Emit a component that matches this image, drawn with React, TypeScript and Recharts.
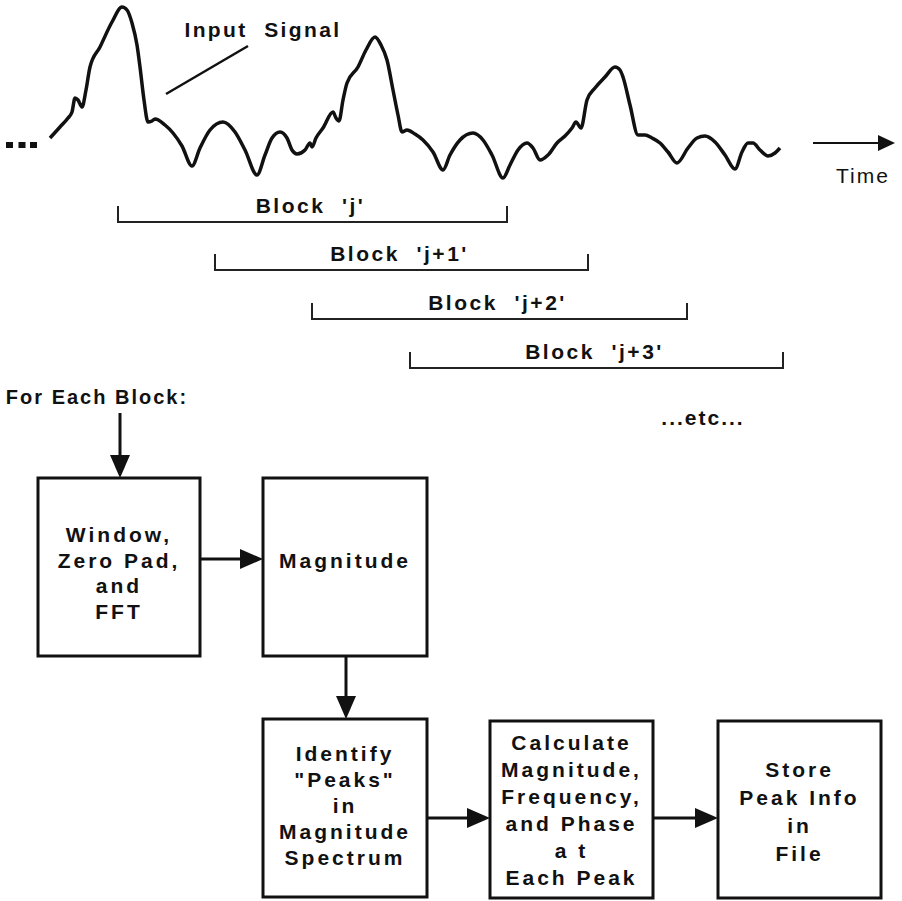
import React from "react";
import { ComposedChart, Line, XAxis, YAxis, ReferenceArea, ReferenceLine, ReferenceDot, Scatter } from "recharts";

// input signal trace (time, level)
const signalTime = [
  50, 60, 68, 72, 75, 78, 82, 86, 90, 100,
  112, 122, 127, 132, 137, 140, 144, 148, 152, 155,
  165, 173, 182, 192, 200, 210, 223, 235, 245, 257,
  265, 272, 280, 287, 292, 297, 305, 310, 312, 316,
  323, 333, 336, 339, 343, 347, 358, 366, 375, 381,
  387, 393, 398, 402, 407, 415, 423, 433, 443, 450,
  460, 473, 483, 492, 503, 510, 518, 527, 533, 540,
  548, 557, 565, 572, 576, 581, 587, 595, 605, 615,
  620, 623, 630, 638, 645, 652, 660, 668, 677, 688,
  697, 705, 715, 725, 735, 742, 748, 753, 760, 768,
  775, 780,
];
const signalLevel = [
  138, 127, 118, 112, 98, 100, 107, 90, 67, 47,
  22, 7, 10, 23, 45, 67, 100, 122, 121, 119,
  125, 133, 146, 166, 148, 130, 122, 132, 150, 175,
  155, 138, 132, 138, 150, 154, 150, 143, 147, 138,
  128, 112, 118, 121, 100, 83, 67, 50, 37, 45,
  60, 90, 115, 132, 130, 134, 140, 152, 170, 155,
  140, 133, 140, 155, 178, 165, 150, 143, 148, 160,
  155, 143, 136, 128, 122, 128, 100, 88, 77, 67,
  70, 77, 105, 135, 135, 138, 143, 152, 163, 148,
  138, 136, 142, 155, 169, 152, 143, 143, 150, 156,
  153, 148,
];

const blockNames = ["Block  'j'", "Block  'j+1'", "Block  'j+2'", "Block  'j+3'"];
const blockStart = [118, 215, 312, 410];
const blockEnd = [507, 588, 687, 783];

const stageLabels = [
  ["Window,", "Zero Pad,", "and", "FFT"],
  ["Magnitude"],
  ["Identify", "\"Peaks\"", "in", "Magnitude", "Spectrum"],
  ["Calculate", "Magnitude,", "Frequency,", "and Phase", "a t", "Each Peak"],
  ["Store", "Peak Info", "in", "File"],
];

const W = 902;
const H = 901;
const INK = "#111";
const FONT = "'Liberation Sans', Arial, Helvetica, sans-serif";

// layout of the flow chart (page units)
const boxes = [
  { x1: 38, x2: 200, y1: 478, y2: 656, dy: 6, gap: 25.5 },
  { x1: 263, x2: 427, y1: 478, y2: 656, dy: -7, gap: 25 },
  { x1: 263, x2: 427, y1: 719, y2: 897, dy: -3, gap: 26 },
  { x1: 490, x2: 653, y1: 721, y2: 898, dy: 0, gap: 27 },
  { x1: 718, x2: 881, y1: 721, y2: 898, dy: 2, gap: 28 },
];
const arrows = [
  [120, 413, 120, 478],
  [200, 559, 263, 559],
  [346, 656, 346, 719],
  [427, 818, 490, 818],
  [653, 818, 718, 818],
];
const bracketRow = [222, 270, 319, 368];
const TICK = 16;

const signal = signalTime.map((x, i) => ({ x, y: signalLevel[i] }));
const ellipsis = [9.5, 22, 33.5].map((x) => ({ x, y: 145 }));

const arrowShape = (head: number, half: number, sw: number) => (p: any) => {
  const { x1, y1, x2, y2 } = p;
  const dx = x2 - x1, dy = y2 - y1;
  const len = Math.hypot(dx, dy) || 1;
  const ux = dx / len, uy = dy / len;
  const bx = x2 - ux * head, by = y2 - uy * head;
  const px = -uy * half, py = ux * half;
  return (
    <g>
      <line x1={x1} y1={y1} x2={bx} y2={by} stroke={INK} strokeWidth={sw} />
      <polygon points={`${x2},${y2} ${bx + px},${by + py} ${bx - px},${by - py}`} fill={INK} />
    </g>
  );
};

const textShape = (text: string, size: number, spacing: number, weight = "bold") => (p: any) => (
  <text
    x={p.cx}
    y={p.cy}
    textAnchor="middle"
    dominantBaseline="central"
    fontFamily={FONT}
    fontSize={size}
    fontWeight={weight}
    letterSpacing={spacing}
    fill={INK}
    style={{ whiteSpace: "pre" }}
  >
    {text}
  </text>
);

const boxShape = (lines: string[], dy: number, gap: number) => (p: any) => {
  const cx = p.x + p.width / 2;
  const cy = p.y + p.height / 2 + dy;
  const top = cy - ((lines.length - 1) * gap) / 2;
  return (
    <g>
      <rect x={p.x} y={p.y} width={p.width} height={p.height} fill="#fff" stroke={INK} strokeWidth={3} />
      {lines.map((l, i) => (
        <text
          key={i}
          x={cx}
          y={top + i * gap}
          textAnchor="middle"
          dominantBaseline="central"
          fontFamily={FONT}
          fontSize={21}
          fontWeight="bold"
          letterSpacing={3}
          fill={INK}
          style={{ whiteSpace: "pre" }}
        >
          {l}
        </text>
      ))}
    </g>
  );
};

export default function App() {
  return (
    <div style={{ position: "absolute", left: 0, top: 0, background: "#fff" }}>
      <ComposedChart width={W} height={H} margin={{ top: 0, right: 0, bottom: 0, left: 0 }}>
        <XAxis type="number" dataKey="x" domain={[0, W]} hide allowDataOverflow />
        <YAxis type="number" dataKey="y" domain={[0, H]} reversed hide allowDataOverflow />

        <Line
          data={signal}
          dataKey="y"
          type="monotone"
          stroke={INK}
          strokeWidth={3.5}
          strokeLinejoin="round"
          dot={false}
          activeDot={false}
          isAnimationActive={false}
        />
        <Scatter
          data={ellipsis}
          isAnimationActive={false}
          shape={(p: any) => <rect x={p.cx - 3.5} y={p.cy - 3} width={7} height={6} fill={INK} />}
        />

        {blockNames.map((name, i) => (
          <Line
            key={name}
            data={[
              { x: blockStart[i], y: bracketRow[i] - TICK },
              { x: blockStart[i], y: bracketRow[i] },
              { x: blockEnd[i], y: bracketRow[i] },
              { x: blockEnd[i], y: bracketRow[i] - TICK },
            ]}
            dataKey="y"
            type="linear"
            stroke="#222"
            strokeWidth={2}
            dot={false}
            activeDot={false}
            isAnimationActive={false}
          />
        ))}
        {blockNames.map((name, i) => (
          <ReferenceDot
            key={"l" + name}
            x={(blockStart[i] + blockEnd[i]) / 2 - 2}
            y={bracketRow[i] - 17}
            r={0}
            shape={textShape(name, 21, 2.5)}
          />
        ))}

        <ReferenceLine segment={[{ x: 166, y: 94 }, { x: 248, y: 46 }]} stroke={INK} strokeWidth={2.5} />
        <ReferenceDot x={263} y={29} r={0} shape={textShape("Input  Signal", 21, 2.4)} />
        <ReferenceLine segment={[{ x: 813, y: 143 }, { x: 895, y: 143 }]} shape={arrowShape(17, 8, 2)} />
        <ReferenceDot x={863} y={175} r={0} shape={textShape("Time", 21, 2, "normal")} />
        <ReferenceDot x={97} y={397} r={0} shape={textShape("For Each Block:", 20, 2)} />
        <ReferenceDot x={703} y={417} r={0} shape={textShape("...etc...", 21, 2)} />

        {boxes.map((b, i) => (
          <ReferenceArea
            key={"b" + i}
            x1={b.x1}
            x2={b.x2}
            y1={b.y1}
            y2={b.y2}
            shape={boxShape(stageLabels[i], b.dy, b.gap)}
          />
        ))}
        {arrows.map((a, i) => (
          <ReferenceLine
            key={"a" + i}
            segment={[{ x: a[0], y: a[1] }, { x: a[2], y: a[3] }]}
            shape={arrowShape(23, 10, 3)}
          />
        ))}
      </ComposedChart>
    </div>
  );
}
